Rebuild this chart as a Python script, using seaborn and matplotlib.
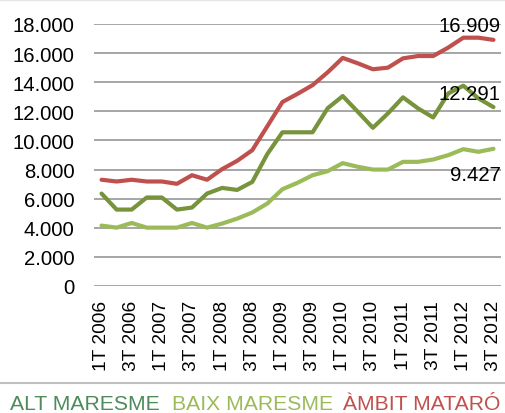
import matplotlib
matplotlib.use("Agg")
import matplotlib.pyplot as plt
import seaborn as sns
import pandas as pd
from matplotlib.lines import Line2D
from matplotlib.ticker import FuncFormatter

# ---------------- data ----------------
quarters = [f"{q}T {y}" for y in range(2006, 2013) for q in range(1, 5)][:27]
series_names = ["ALT MARESME", "BAIX MARESME", "ÀMBIT MATARÓ"]
alt_maresme = [6350, 5250, 5250, 6080, 6080, 5250, 5390, 6350, 6740, 6600, 7150,
               9070, 10560, 10560, 10560, 12210, 13050, 11970, 10870, 11860, 12960,
               12200, 11580, 13230, 13760, 12890, 12291]
baix_maresme = [4150, 4010, 4330, 4010, 4010, 4010, 4330, 4010, 4290, 4630, 5050,
                5670, 6650, 7090, 7610, 7890, 8440, 8190, 8000, 8000, 8530,
                8530, 8690, 8990, 9400, 9220, 9427]
ambit_mataro = [7300, 7180, 7300, 7180, 7180, 7020, 7610, 7300, 8030, 8600, 9330,
                10980, 12640, 13200, 13800, 14680, 15670, 15300, 14890, 15000, 15640,
                15800, 15800, 16380, 17060, 17060, 16909]
line_colors = ["#77933C", "#9BBB59", "#C0504D"]
legend_colors = ["#4F8A5B", "#9BBB59", "#C0504D"]
y_ticks = list(range(0, 18001, 2000))

# ---------------- frame ----------------
rows = []
for name, vals in zip(series_names, [alt_maresme, baix_maresme, ambit_mataro]):
    for i, (q, v) in enumerate(zip(quarters, vals)):
        rows.append({"pos": i, "quarter": q, "serie": name, "valor": v})
df = pd.DataFrame(rows)

sns.set_theme(style="white")
plt.rcParams["font.family"] = ["Liberation Sans", "DejaVu Sans"]

W, H = 505, 414
fig = plt.figure(figsize=(W / 100, H / 100), dpi=100)
ax = fig.add_axes([94 / W, 1 - 287 / H, (501 - 94) / W, (287 - 25) / H])

sns.lineplot(data=df, x="pos", y="valor", hue="serie", hue_order=series_names,
             palette=dict(zip(series_names, line_colors)), linewidth=3.0,
             ax=ax, legend=False)

ax.set_xlim(-0.5, len(quarters) - 0.5)
ax.set_ylim(0, 18000)
ax.set_yticks(y_ticks)
ax.yaxis.set_major_formatter(FuncFormatter(lambda v, p: f"{int(v):,}".replace(",", ".")))
ax.set_xticks(range(0, len(quarters), 2))
ax.set_xticklabels(quarters[::2], rotation=90)
ax.tick_params(axis="y", length=0, pad=14, labelsize=14.6, labelcolor="black")
ax.tick_params(axis="x", length=0, pad=10, labelsize=13.8, labelcolor="black")
ax.set_xlabel("")
ax.set_ylabel("")
for s in ax.spines.values():
    s.set_visible(False)
ax.grid(axis="y", color="#A6A6A6", linewidth=1.4)
ax.grid(axis="x", visible=False)
ax.set_axisbelow(True)

# end labels
last = len(quarters) - 1
offsets = {"ÀMBIT MATARÓ": 14, "ALT MARESME": 14, "BAIX MARESME": -26}
for name, vals in zip(series_names, [alt_maresme, baix_maresme, ambit_mataro]):
    txt = f"{vals[-1]:,}".replace(",", ".")
    ax.annotate(txt, xy=(last, vals[-1]), xytext=(7, offsets[name]),
                textcoords="offset pixels", ha="right", va="center",
                fontsize=14.6, color="black", annotation_clip=False)

# separator line and legend text
fig.add_artist(Line2D([0, 1], [1 - 384 / H, 1 - 384 / H], transform=fig.transFigure,
                      color="#BFBFBF", linewidth=1.5))
fig.add_artist(Line2D([0, 1], [1 - 0.5 / H, 1 - 0.5 / H], transform=fig.transFigure,
                      color="#E6E6E6", linewidth=1.0))
leg_x = [10, 172, 343]
for name, col, x in zip(series_names, legend_colors, leg_x):
    fig.text(x / W, 1 - 410 / H, name, color=col, fontsize=15.2,
             va="baseline", ha="left")

fig.savefig("out.png", dpi=100)
